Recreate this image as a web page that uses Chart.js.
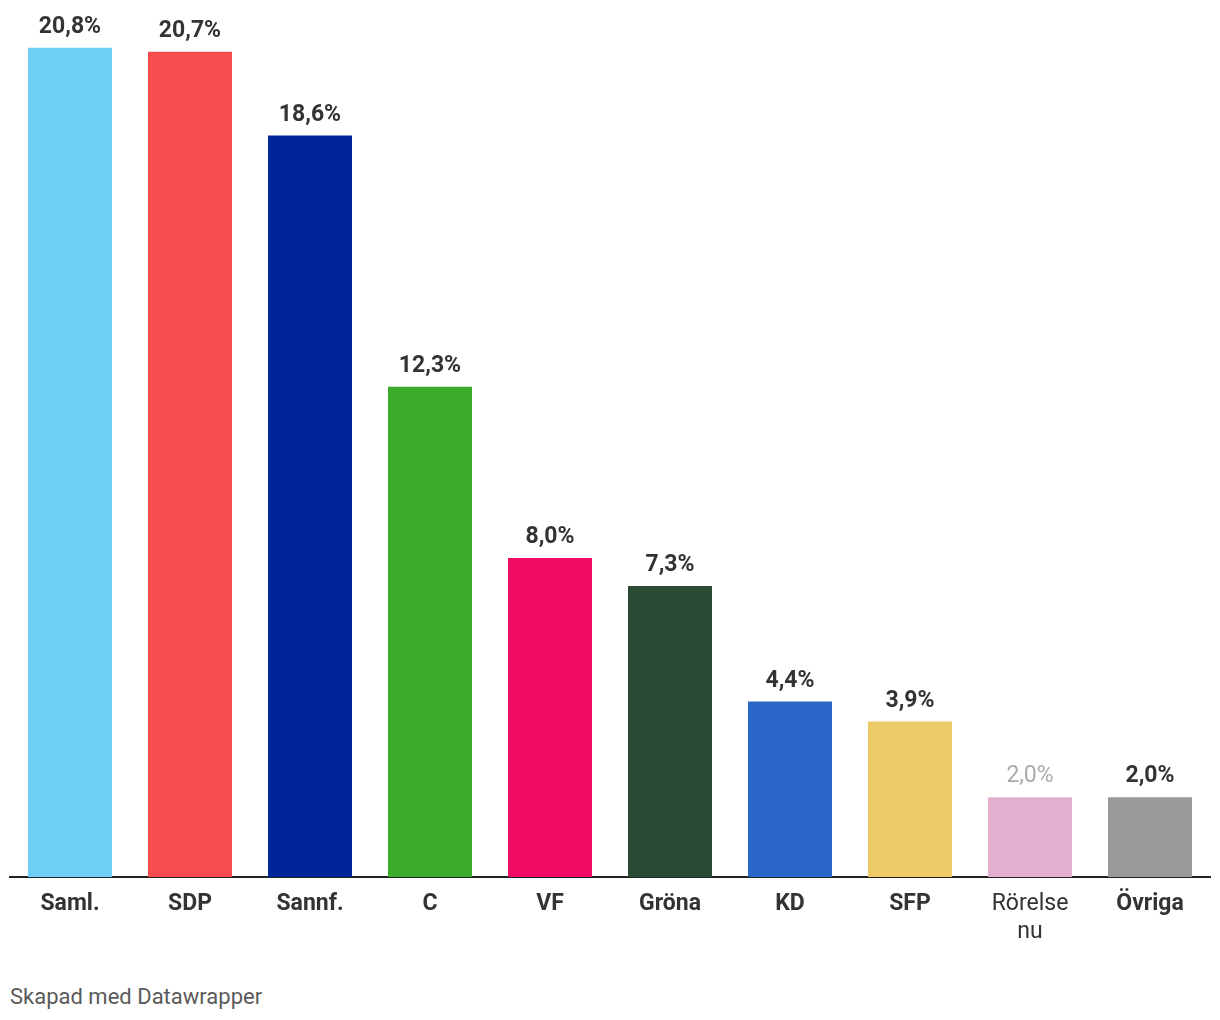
<!DOCTYPE html>
<html>
<head>
<meta charset="utf-8">
<script src="https://cdn.jsdelivr.net/npm/chart.js@4"></script>
<style>
  html, body { margin: 0; padding: 0; background: #fff; }
  #wrap { position: relative; width: 1220px; height: 960px; }
  #footer { position: absolute; left: 10px; top: 984px; font-family: Roboto, sans-serif; font-size: 22px; color: #5a5a5a; }
</style>
</head>
<body>
<div id="wrap"><canvas id="c" width="1220" height="960"></canvas></div>
<div id="footer">Skapad med Datawrapper</div>
<script>
const categories = ["Saml.", "SDP", "Sannf.", "C", "VF", "Gröna", "KD", "SFP", ["Rörelse", "nu"], "Övriga"];
const values = [20.8, 20.7, 18.6, 12.3, 8.0, 7.3, 4.4, 3.9, 2.0, 2.0];
const barColors = ["#6dcff6", "#f84c4e", "#00259a", "#3cac2f", "#f00c64", "#2b4a35", "#2b67c8", "#eecb66", "#e2b0ce", "#999999"];
const mutedIndex = 8;

const valueLabels = {
  id: 'valueLabels',
  afterDatasetsDraw(chart) {
    const ctx = chart.ctx;
    const meta = chart.getDatasetMeta(0);
    ctx.save();
    ctx.textAlign = 'center';
    ctx.textBaseline = 'alphabetic';
    meta.data.forEach((bar, i) => {
      const muted = i === mutedIndex;
      ctx.font = (muted ? '400 ' : '700 ') + '23px Roboto';
      ctx.fillStyle = muted ? '#aaaaaa' : '#333333';
      const txt = values[i].toFixed(1).replace('.', ',') + '%';
      ctx.fillText(txt, bar.x, bar.y - 15);
    });
    ctx.restore();
  }
};

new Chart(document.getElementById('c'), {
  type: 'bar',
  data: {
    labels: categories,
    datasets: [{
      data: values,
      backgroundColor: barColors,
      borderWidth: 0,
      barPercentage: 0.7,
      categoryPercentage: 1.0
    }]
  },
  options: {
    responsive: false,
    animation: false,
    events: [],
    layout: { padding: { left: 10, right: 10, top: 0, bottom: 0 } },
    plugins: { legend: { display: false }, tooltip: { enabled: false }, title: { display: false } },
    scales: {
      y: { display: false, min: 0, max: 22 },
      x: {
        grid: { display: false, drawTicks: false },
        border: { display: true, color: '#222222', width: 2 },
        afterFit: (scale) => { scale.height = 83; },
        ticks: {
          padding: 13,
          maxRotation: 0,
          autoSkip: false,
          color: (ctx) => '#333333',
          font: (ctx) => ({ family: 'Roboto', size: 23, weight: ctx.index === mutedIndex ? '400' : '700', lineHeight: 1.2174 })
        }
      }
    }
  },
  plugins: [valueLabels]
});
</script>
</body>
</html>
